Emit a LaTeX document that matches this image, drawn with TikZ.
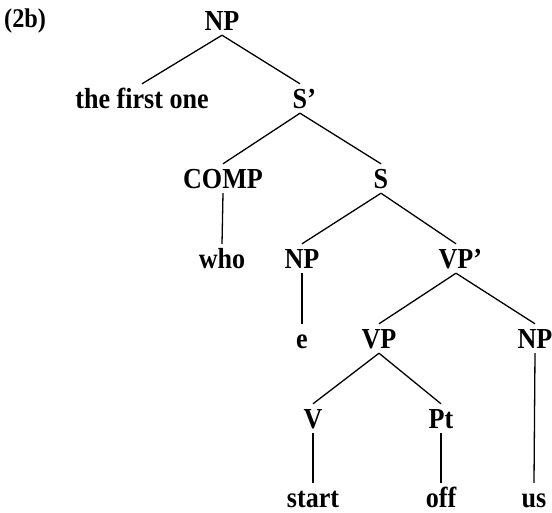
\documentclass[tikz,border=0pt]{standalone}
\usepackage{fontspec}
\setmainfont[FakeStretch=0.9]{Liberation Serif}
\begin{document}
\begin{tikzpicture}[x=1pt,y=-1pt,
        cat/.style={anchor=base,inner sep=4pt,text height=20pt,text depth=1pt,
            font=\bfseries\fontsize{29}{33}\selectfont}]
    \useasboundingbox (0,0) rectangle (552,512);
    \node[cat,anchor=base west,inner sep=0pt,font=\bfseries\fontsize{27}{31}\selectfont] (ex) at (4,27) {(2b)};
    \node[cat] (NP) at (222,30) {NP};
    \node[cat] (one) at (142,108) {the first one};
    \node[cat] (Sb) at (300,108) {S\rlap{’}};
    \node[cat] (COMP) at (223,188) {COMP};
    \node[cat] (S) at (381,188) {S};
    \node[cat] (who) at (222,268) {who};
    \node[cat] (NPs) at (302,268) {NP};
    \node[cat] (VPb) at (456,268) {VP\rlap{’}};
    \node[cat] (e) at (302,348) {e};
    \node[cat] (VP) at (379,348) {VP};
    \node[cat] (NPo) at (535,348) {NP};
    \node[cat] (V) at (313,428) {V};
    \node[cat] (Pt) at (441,428) {Pt};
    \node[cat] (start) at (313,507) {start};
    \node[cat] (off) at (441,507) {off};
    \node[cat] (us) at (534,507) {us};
    % branches
    \foreach \a/\b in {NP/one,NP/Sb,Sb/COMP,Sb/S,S/NPs,S/VPb,VPb/VP,VPb/NPo,VP/V,VP/Pt}
        \draw[line width=1.3pt] (\a.south) -- (\b.north);
    \draw[line width=1.3pt] (COMP.south) -- (who.north);
    \draw[line width=1.3pt] (NPs.south) -- (e.north);
    \draw[line width=1.3pt] (V.south) -- (start.north);
    \draw[line width=1.3pt] (Pt.south) -- (off.north);
    \draw[line width=1.3pt] (NPo.south) -- (us.north);
\end{tikzpicture}
\end{document}
